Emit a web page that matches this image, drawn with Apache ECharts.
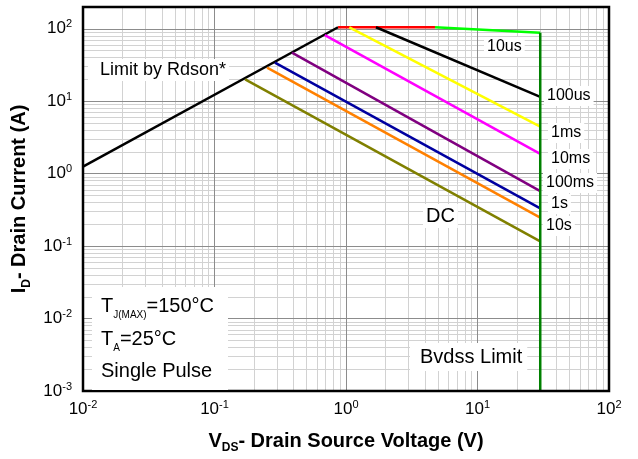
<!DOCTYPE html>
<html>
<head>
<meta charset="utf-8">
<script src="https://cdn.jsdelivr.net/npm/echarts@6/dist/echarts.min.js"></script>
<style>
  html, body { margin: 0; padding: 0; background: #fff; }
  #chart { width: 638px; height: 459px; }
</style>
</head>
<body>
<div id="chart"></div>
<script>
// axis ranges and decade tick labels
const xRange = [0.01, 100];
const yRange = [0.001, 200];
const xDecades = [0.01, 0.1, 1, 10, 100];
const yDecades = [0.001, 0.01, 0.1, 1, 10, 100];

// [V, I] points
const limitRdson = [[0.01, 1.25], [0.87, 105]];
const pulse10usRed = [[0.87, 105], [4.75, 105]];
const pulse10usGreen = [[4.75, 105], [30, 88]];
const pulse100us = [[1.69, 105], [30, 11.5]];
const pulse1ms = [[1.06, 105], [30, 4.45]];
const pulse10ms = [[0.69, 82], [30, 1.88]];
const pulse100ms = [[0.388, 47], [30, 0.573]];
const pulse1s = [[0.288, 34.2], [30, 0.332]];
const pulse10s = [[0.251, 29.2], [30, 0.247]];
const pulseDC = [[0.171, 20], [30, 0.116]];
const bvdssLimit = [[30, 88], [30, 0.001]];

const FONT = 'Liberation Sans, Arial, sans-serif';

const chart = echarts.init(document.getElementById('chart'));

// log grid: 1..9 x 10^k inside the range
function logSteps(range) {
  const major = [], minor = [];
  const e0 = Math.floor(Math.log10(range[0]) + 1e-9);
  const e1 = Math.ceil(Math.log10(range[1]) - 1e-9);
  for (let e = e0; e <= e1; e++) {
    for (let m = 1; m <= 9; m++) {
      const v = +(m * Math.pow(10, e)).toPrecision(6);
      if (v < range[0] * 0.999 || v > range[1] * 1.001) continue;
      (m === 1 ? major : minor).push(v);
    }
  }
  return { major, minor };
}

const xs = logSteps(xRange);
const ys = logSteps(yRange);

function gridCoords(xv, yv) {
  return xv.map(v => ({ coords: [[v, yRange[0]], [v, yRange[1]]] }))
    .concat(yv.map(v => ({ coords: [[xRange[0], v], [xRange[1], v]] })));
}

function decadeLabel(v) {
  const l = Math.log10(v);
  const e = Math.round(l);
  if (Math.abs(l - e) > 1e-6) return '';
  return '{b|10}{s|' + e + '}';
}

const tickRich = {
  b: { fontSize: 17, fontFamily: FONT, color: '#000', lineHeight: 20 },
  s: { fontSize: 11, fontFamily: FONT, color: '#000', verticalAlign: 'top', lineHeight: 11 }
};

function line(data, color) {
  return {
    type: 'line',
    data: data,
    showSymbol: false,
    silent: true,
    z: 3,
    lineStyle: { color: color, width: 2.5 }
  };
}

function label(text, x, y, size, padding) {
  return {
    type: 'text',
    x: x,
    y: y,
    z: 100,
    silent: true,
    style: {
      text: text,
      font: size + 'px ' + FONT,
      fill: '#000',
      align: 'left',
      verticalAlign: 'middle',
      textAlign: 'left',
      textVerticalAlign: 'middle',
      backgroundColor: '#fff',
      padding: padding || [2, 3]
    }
  };
}

const subRich = {
  t: { fontSize: 20, fontFamily: FONT, color: '#000', lineHeight: 28 },
  u: { fontSize: 10, fontFamily: FONT, color: '#000', verticalAlign: 'bottom', lineHeight: 12 }
};

const option = {
  animation: false,
  backgroundColor: '#fff',
  grid: {
    left: 83,
    right: 29,
    top: 7,
    bottom: 66,
    show: true,
    z: 5,
    backgroundColor: 'transparent',
    borderColor: '#000',
    borderWidth: 2.5
  },
  xAxis: {
    type: 'log',
    logBase: 10,
    min: xRange[0],
    max: xRange[1],
    axisLine: { show: false },
    axisTick: { show: false },
    splitLine: { show: false },
    axisLabel: { margin: 8, formatter: decadeLabel, rich: tickRich },
    name: '{b|V}{s|DS}{b|- Drain Source Voltage (V)}',
    nameLocation: 'middle',
    nameGap: 37,
    nameTextStyle: {
      rich: {
        b: { fontSize: 20, fontWeight: 'bold', fontFamily: FONT, color: '#000', lineHeight: 26 },
        s: { fontSize: 12, fontWeight: 'bold', fontFamily: FONT, color: '#000', verticalAlign: 'bottom', lineHeight: 12 }
      }
    }
  },
  yAxis: {
    type: 'log',
    logBase: 10,
    min: yRange[0],
    max: yRange[1],
    axisLine: { show: false },
    axisTick: { show: false },
    splitLine: { show: false },
    axisLabel: { margin: 11, formatter: decadeLabel, rich: tickRich },
    name: '{b|I}{s|D}{b|- Drain Current (A)}',
    nameLocation: 'middle',
    nameGap: 41,
    nameTextStyle: {
      rich: {
        b: { fontSize: 20, fontWeight: 'bold', fontFamily: FONT, color: '#000', lineHeight: 26 },
        s: { fontSize: 12, fontWeight: 'bold', fontFamily: FONT, color: '#000', verticalAlign: 'bottom', lineHeight: 12 }
      }
    }
  },
  series: [
    {
      type: 'lines',
      coordinateSystem: 'cartesian2d',
      silent: true,
      z: 1,
      lineStyle: { color: '#d2d2d2', width: 1, opacity: 1 },
      data: gridCoords(xs.minor, ys.minor)
    },
    {
      type: 'lines',
      coordinateSystem: 'cartesian2d',
      silent: true,
      z: 2,
      lineStyle: { color: '#8c8c8c', width: 1, opacity: 1 },
      data: gridCoords(xDecades, yDecades)
    },
    line(limitRdson, '#000000'),
    line(pulse10usRed, '#ff0000'),
    line(pulse10usGreen, '#00ff00'),
    line(pulse100us, '#000000'),
    line(pulse1ms, '#ffff00'),
    line(pulse10ms, '#ff00ff'),
    line(pulse100ms, '#800080'),
    line(pulse1s, '#0000a0'),
    line(pulse10s, '#ff8000'),
    line(pulseDC, '#808000'),
    line(bvdssLimit, '#008000')
  ],
  graphic: [
    label('Limit by Rdson*', 88, 70, 18, [2, 3, 2, 12]),
    label('10us', 484, 47, 16),
    label('100us', 544, 96, 16),
    label('1ms', 548, 133, 16),
    label('10ms', 548, 159, 16),
    label('100ms', 543, 183, 16),
    label('1s', 548, 204, 16),
    label('10s', 543, 226, 16),
    label('DC', 423, 216, 20),
    label('Bvdss Limit', 410, 357, 20, [4, 5, 4, 10]),
    {
      type: 'rect',
      z: 99,
      silent: true,
      shape: { x: 92, y: 287, width: 136, height: 103 },
      style: { fill: '#fff' }
    },
    {
      type: 'text', x: 101, y: 306, z: 100, silent: true,
      style: { text: '{t|T}{u|J(MAX)}{t|=150°C}', rich: subRich, verticalAlign: 'middle', textVerticalAlign: 'middle' }
    },
    {
      type: 'text', x: 101, y: 339, z: 100, silent: true,
      style: { text: '{t|T}{u|A}{t|=25°C}', rich: subRich, verticalAlign: 'middle', textVerticalAlign: 'middle' }
    },
    {
      type: 'text', x: 101, y: 371, z: 100, silent: true,
      style: { text: '{t|Single Pulse}', rich: subRich, verticalAlign: 'middle', textVerticalAlign: 'middle' }
    }
  ]
};

chart.setOption(option);
</script>
</body>
</html>
